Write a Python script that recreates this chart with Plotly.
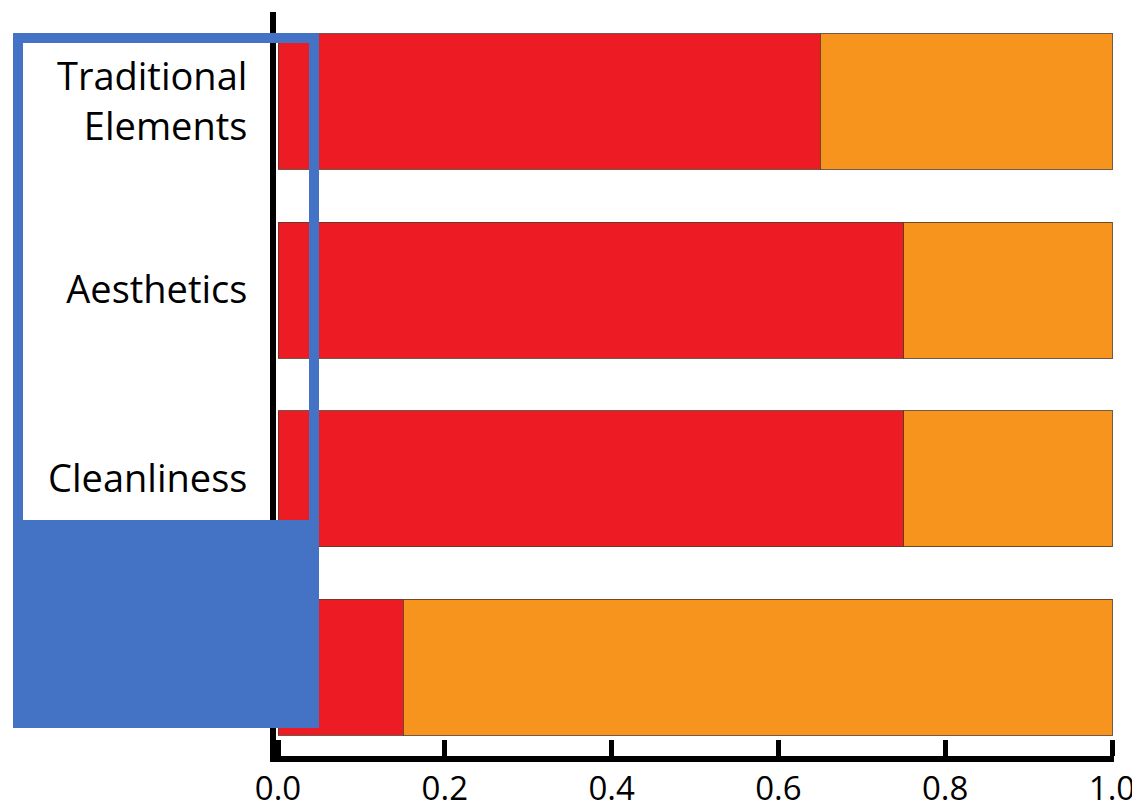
import plotly.graph_objects as go

# ---- data ----
categories = ["Traditional<br>Elements", "Aesthetics", "Cleanliness", "Other"]
red_values = [0.65, 0.75, 0.75, 0.15]
orange_values = [0.35, 0.25, 0.25, 0.85]
x_ticks = [0.0, 0.2, 0.4, 0.6, 0.8, 1.0]

OFF = 8  # page body margin
W, H = 1140 - OFF, 810 - OFF
RED = "#ED1C24"
ORANGE = "#F7941D"
BLUE = "#4472C4"
EDGE = "rgba(90,60,40,0.85)"

fig = go.Figure()
fig.add_trace(go.Bar(
    y=categories, x=red_values, orientation="h", width=0.72,
    marker=dict(color=RED, line=dict(color=EDGE, width=1)), showlegend=False,
))
fig.add_trace(go.Bar(
    y=categories, x=orange_values, orientation="h", width=0.72,
    marker=dict(color=ORANGE, line=dict(color=EDGE, width=1)), showlegend=False,
))

# page-pixel helpers -> paper coordinates
def px(x):
    return (x - OFF) / W

def py(y):
    return 1 - (y - OFF) / H

fig.update_layout(
    template="none",
    barmode="stack",
    width=W, height=H,
    margin=dict(l=0, r=0, t=0, b=0, pad=0),
    paper_bgcolor="white", plot_bgcolor="white",
    font=dict(family="Open Sans, Noto Sans, sans-serif", color="black"),
    xaxis=dict(
        automargin=False,
        domain=[px(276), px(1114)],
        range=[-2 / 834, 1 + 2 / 834],
        tickvals=x_ticks, tickformat=".1f",
        ticks="inside", ticklen=16, tickwidth=5, tickcolor="black",
        showline=True, linewidth=6, linecolor="black",
        showgrid=False, zeroline=False,
        tickfont=dict(size=33, family="Open Sans, sans-serif"),
        ticklabelstandoff=-2,
        fixedrange=True,
    ),
    yaxis=dict(
        automargin=False,
        domain=[py(756), py(12)],
        type="category",
        categoryorder="array", categoryarray=categories,
        range=[3.47, -0.475],
        showline=True, linewidth=6, linecolor="black",
        ticks="", showgrid=False, zeroline=False,
        tickfont=dict(size=38, family="Open Sans, sans-serif"),
        ticklabelstandoff=15,
        fixedrange=True,
    ),
    shapes=[
        dict(type="rect", xref="paper", yref="paper", layer="above",
             x0=px(18), x1=px(314), y0=py(38), y1=py(525),
             line=dict(color=BLUE, width=10), fillcolor="rgba(0,0,0,0)"),
        dict(type="rect", xref="paper", yref="paper", layer="above",
             x0=px(13), x1=px(319), y0=py(520), y1=py(728),
             line=dict(width=0), fillcolor=BLUE),
    ],
)

fig.write_html("out.html")
